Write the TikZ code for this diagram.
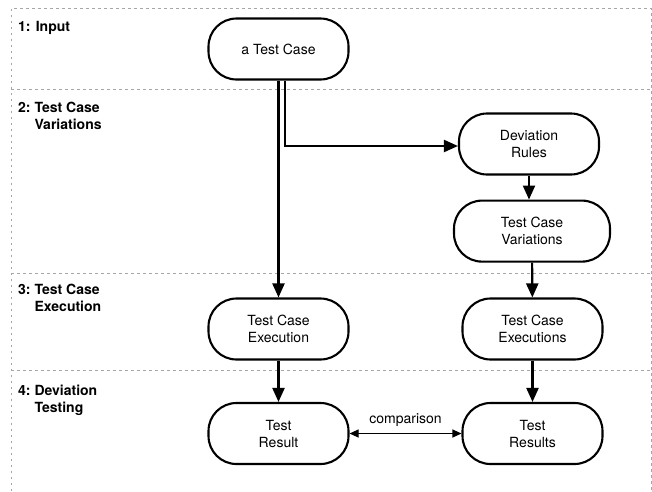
\documentclass[tikz,border=0pt]{standalone}
\usepackage{fontspec}
\setmainfont{TeX Gyre Heros}
\usepackage{tikz}
\usetikzlibrary{arrows.meta, positioning}

% lane caption with hanging second line
\newcommand{\lanecaption}[3]{\begin{tabular}[b]{@{}l@{\ }l@{}}#1 & #2\\ & #3\end{tabular}}

\begin{document}
\begin{tikzpicture}[x=1pt, y=-1pt,
	box/.style={draw, line width=2.1pt, rounded corners=28pt, minimum width=140pt, minimum height=61pt, align=center, font=\fontsize{14}{17}\selectfont},
	flow/.style={line width=2.1pt, -{Triangle[length=14pt,width=12pt]}},
	compare/.style={line width=1.1pt, {Triangle[length=9pt,width=8pt]}-{Triangle[length=9pt,width=8pt]}},
	lane/.style={draw=gray!70, line width=0.8pt, dash pattern=on 2.5pt off 3.5pt},
	lanelabel/.style={anchor=base west, inner sep=0pt, font=\bfseries\fontsize{14}{17}\selectfont}]
	\useasboundingbox (0,0) rectangle (652,491);

	% swimlanes
	\draw[lane] (11,491) -- (11,8) -- (651,8) -- (651,491);
	\foreach \y in {89.5, 273, 370}
		\draw[lane] (11,\y) -- (651,\y);

	% base anchor sits on the last line
	\node[lanelabel] (lane-1) at (18,31) {1: Input};
	\node[lanelabel] (lane-2) at (18,129) {\lanecaption{2:}{Test Case}{Variations}};
	\node[lanelabel] (lane-3) at (18,311) {\lanecaption{3:}{Test Case}{Execution}};
	\node[lanelabel] (lane-4) at (18,412) {\lanecaption{4:}{Deviation}{Testing}};

	% steps
	\node[box] (input) at (278.5,49) {a Test Case};
	\node[box] (rules) at (529,144) {Deviation\\Rules};
	\node[box, minimum width=156pt, below=24pt of rules, xshift=3pt] (variations) {Test Case\\Variations};
	\node[box] (executions) at (532.5,329) {Test Case\\Executions};
	\node[box] (results) at (532.5,433.5) {Test\\Results};
	\node[box] (execution) at (input |- executions) {Test Case\\Execution};
	\node[box] (result) at (input |- results) {Test\\Result};

	\draw[flow] (input.south) -- (execution.north);
	\draw[flow] ([xshift=6.5pt]input.south) |- ([yshift=-2pt]rules.west);
	\draw[flow] (rules.south) -- (rules.south |- variations.north);
	\draw[flow] (variations) -- (executions);
	\draw[flow] (executions) -- (results);
	\draw[flow] (execution) -- (result);
	\draw[compare] (result) -- node[above=3pt, font=\fontsize{14}{17}\selectfont] (comparison) {comparison} (results);
\end{tikzpicture}
\end{document}
